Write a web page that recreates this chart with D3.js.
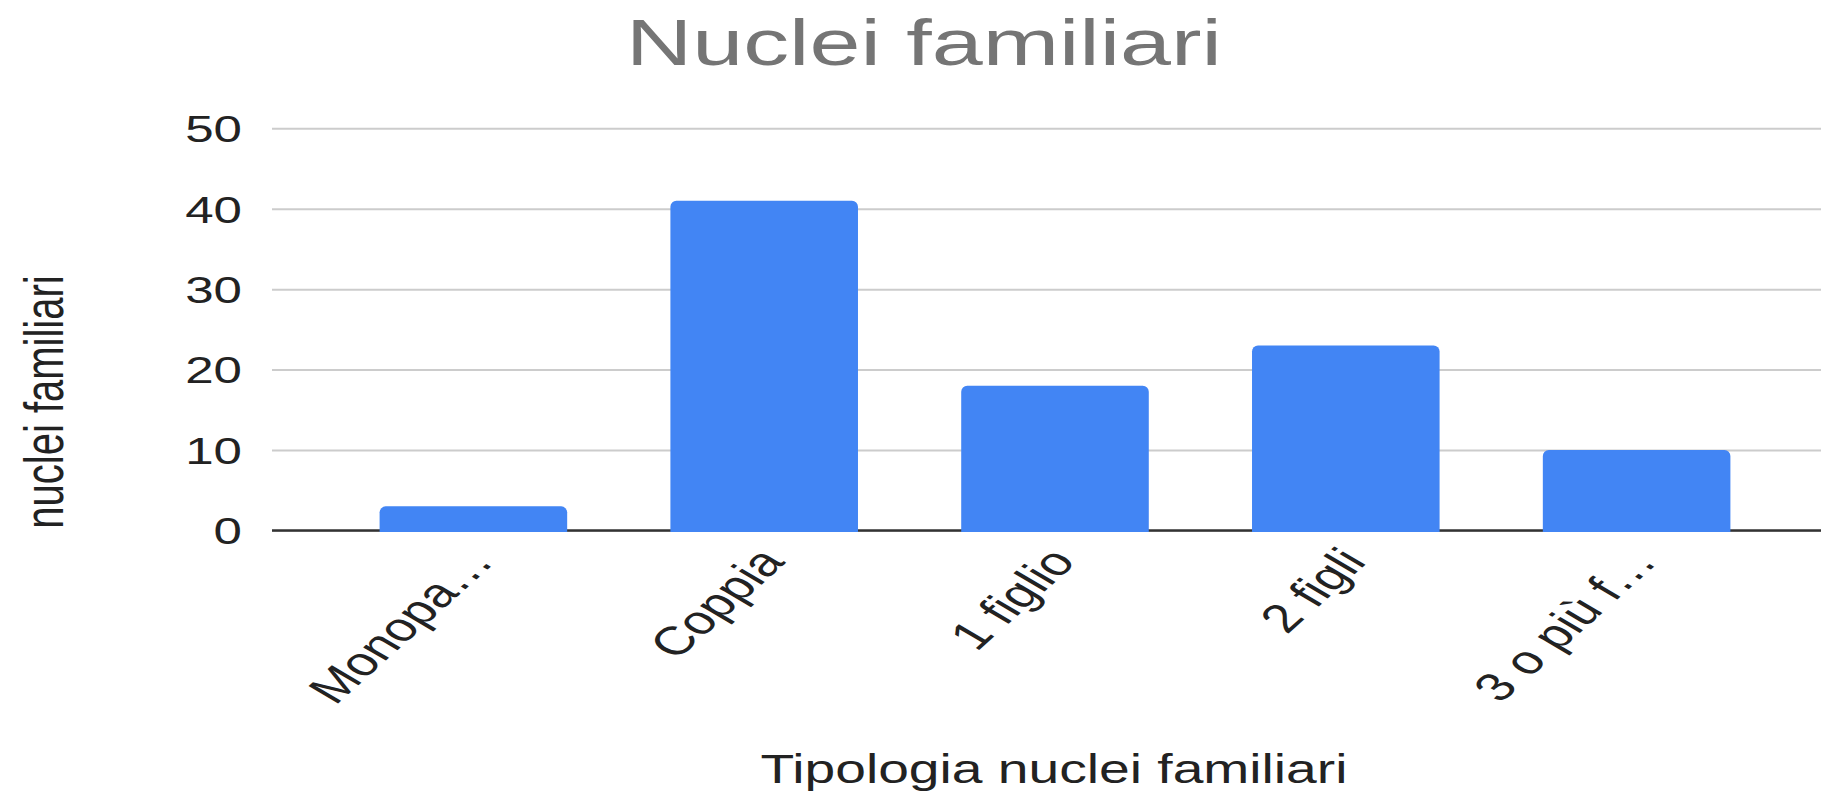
<!DOCTYPE html>
<html>
<head>
<meta charset="utf-8">
<script src="https://cdn.jsdelivr.net/npm/d3@7"></script>
<style>
  body { margin: 0; background: #fff; }
  svg { display: block; font-family: "Liberation Sans", Arial, sans-serif; }
</style>
</head>
<body>
<svg id="chart" width="1821" height="801"></svg>
<script>
// data
var categories = ["Monopa\u2026", "Coppia", "1 figlio", "2 figli", "3 o pi\u00f9 f\u2026"];
var values = [3, 41, 18, 23, 10];
var yTicks = [0, 10, 20, 30, 40, 50];

var title = "Nuclei familiari";
var xTitle = "Tipologia nuclei familiari";
var yTitle = "nuclei familiari";

var svg = d3.select("#chart"),
  width = +svg.attr("width"),
  height = +svg.attr("height");

// the picture is stretched sideways, so the text is too
var stretch = 1.38;

// (not "top": that name is taken by window.top)
var plotLeft = 272, plotTop = 128.3, plotBottom = 530.5;

var x = d3.scaleBand()
  .domain(categories)
  .range([plotLeft, 1838])
  .paddingInner(0.355)
  .paddingOuter(0.37);

var y = d3.scaleLinear()
  .domain([0, 50])
  .range([plotBottom, plotTop]);

svg.append("rect")
  .attr("width", width)
  .attr("height", height)
  .attr("fill", "#fff");

// title
svg.append("text")
  .attr("transform", "translate(924,65) scale(1.41,1)")
  .attr("text-anchor", "middle")
  .attr("font-size", 65)
  .attr("fill", "#757575")
  .text(title);

// y axis with gridlines
var yAxis = svg.append("g")
  .attr("transform", "translate(" + plotLeft + ",0)")
  .call(d3.axisLeft(y).tickValues(yTicks).tickSize(-(width - plotLeft)).tickPadding(0));

yAxis.select(".domain").remove();
yAxis.selectAll(".tick line")
  .attr("stroke", "#cccccc")
  .attr("stroke-width", 2);
yAxis.selectAll(".tick text")
  .attr("transform", "scale(" + stretch + ",1)")
  .attr("x", -30 / stretch)
  .attr("dy", "0.36em")
  .attr("font-size", 37)
  .attr("font-family", "Liberation Sans, Arial, sans-serif")
  .attr("fill", "#222");

// baseline
svg.append("line")
  .attr("x1", plotLeft)
  .attr("x2", width)
  .attr("y1", y(0))
  .attr("y2", y(0))
  .attr("stroke", "#333")
  .attr("stroke-width", 2.5);

// bars, rounded on top
function topRounded(x0, y0, w, h, r) {
  r = Math.min(r, h, w / 2);
  return "M" + x0 + "," + (y0 + h) +
    "V" + (y0 + r) +
    "A" + r + "," + r + " 0 0 1 " + (x0 + r) + "," + y0 +
    "H" + (x0 + w - r) +
    "A" + r + "," + r + " 0 0 1 " + (x0 + w) + "," + (y0 + r) +
    "V" + (y0 + h) + "Z";
}

svg.append("g")
  .selectAll("path")
  .data(values)
  .enter().append("path")
  .attr("fill", "#4285f4")
  .attr("d", function (d, i) {
    var x0 = x(categories[i]);
    return topRounded(x0, y(d), x.bandwidth(), y(0) + 1.5 - y(d), 6);
  });

// x axis labels
var xAxis = svg.append("g")
  .attr("transform", "translate(0," + y(0) + ")")
  .call(d3.axisBottom(x).tickSize(0).tickPadding(0));

xAxis.select(".domain").remove();
xAxis.selectAll(".tick text")
  .attr("y", null)
  .attr("dy", null)
  .attr("text-anchor", "end")
  .attr("transform", "translate(22,32) scale(" + stretch + ",1) rotate(-51)")
  .attr("font-size", 40)
  .attr("font-family", "Liberation Sans, Arial, sans-serif")
  .attr("fill", "#222");

// axis titles
svg.append("text")
  .attr("transform", "translate(1054,783) scale(" + stretch + ",1)")
  .attr("text-anchor", "middle")
  .attr("font-size", 40)
  .attr("fill", "#222")
  .text(xTitle);

svg.append("text")
  .attr("transform", "translate(63,402) scale(" + stretch + ",1) rotate(-90)")
  .attr("text-anchor", "middle")
  .attr("font-size", 40)
  .attr("fill", "#222")
  .text(yTitle);
</script>
</body>
</html>
